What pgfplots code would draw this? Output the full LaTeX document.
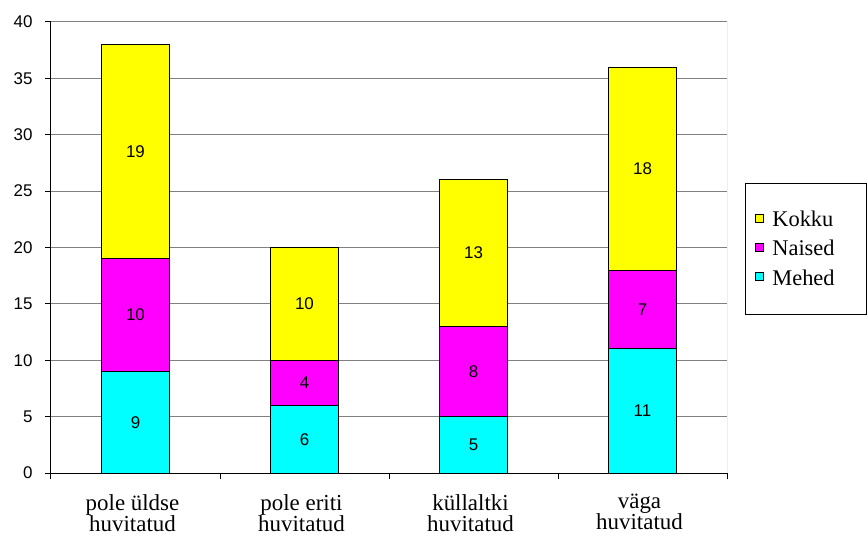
\documentclass[border=0pt]{standalone}
\usepackage{fontspec}
\setmainfont{Liberation Serif}
\newfontfamily\arial{Liberation Sans}
\usepackage{pgfplots}
\usepackage{pgfplotstable}
\pgfplotsset{compat=1.18}
\usetikzlibrary{calc}

\definecolor{kyellow}{RGB}{255,255,0}
\definecolor{kmagenta}{RGB}{255,0,255}
\definecolor{kcyan}{RGB}{0,255,255}
\definecolor{kgrid}{RGB}{128,128,128}

% Mehed, Naised, Kokku per vastuse kategooria
\pgfplotstableread{
x m n k
0 9 10 19
1 6 4 10
2 5 8 13
3 11 7 18
}\datatable

\begin{document}
\begin{tikzpicture}
\begin{axis}[
    name=ax,
    scale only axis,
    width=676bp, height=451bp,
    ybar stacked,
    bar width=68bp,
    xmin=-0.5, xmax=3.5,
    ymin=0, ymax=40,
    xtick={0,1,2,3},
    xticklabels={{pole üldse\\huvitatud},{pole eriti\\huvitatud},{küllaltki\\huvitatud},{väga\\huvitatud}},
    xticklabel style={align=center, font=\rmfamily\fontsize{23}{21}\selectfont, yshift=-12bp, xshift=-3bp},
    major x tick style={draw=none},
    minor xtick={-0.5,0.5,1.5,2.5,3.5},
    ytick={0,5,...,40},
    tick align=outside,
    major tick length=6bp, minor tick length=6bp,
    tick style={black, line width=1bp},
    ymajorgrids,
    grid style={kgrid, line width=1bp},
    axis x line*=bottom, axis y line*=left,
    axis line style={-, black, line width=1bp},
    yticklabel style={font=\arial\fontsize{17}{20}\selectfont, xshift=-9bp},
    /pgf/number format/assume math mode=true,
    every node near coord/.append style={font=\arial\fontsize{17}{20}\selectfont, anchor=center},
    legend style={at={(axis description cs:1.0266,0.643)}, anchor=north west,
        draw=black, line width=0.8bp, font=\rmfamily\fontsize{22.5}{27}\selectfont,
        inner xsep=10bp, inner ysep=26bp, row sep=8bp, column sep=6bp,
        nodes={text width=82bp, align=left}},
    legend cell align=left,
    reverse legend,
    legend image code/.code={\draw[#1, draw=black, line width=1bp] (-1bp,-3bp) rectangle (7bp,5bp);},
]
\addplot[fill=kcyan, draw=black, line width=1bp, point meta=explicit, nodes near coords]
    table[x=x, y=m, meta=m] {\datatable};
\addplot[fill=kmagenta, draw=black, line width=1bp, point meta=explicit, nodes near coords]
    table[x=x, y=n, meta=n] {\datatable};
\addplot[fill=kyellow, draw=black, line width=1bp, point meta=explicit, nodes near coords]
    table[x=x, y=k, meta=k] {\datatable};
\legend{Mehed, Naised, Kokku}
\draw[kgrid, line width=1bp] (rel axis cs:0,1) -- (rel axis cs:1,1) -- (rel axis cs:1,0);
\end{axis}
\pgfresetboundingbox
\path[use as bounding box] ($(ax.south west)+(-51bp,-63bp)$) rectangle ++(868bp,536bp);
\end{tikzpicture}
\end{document}
